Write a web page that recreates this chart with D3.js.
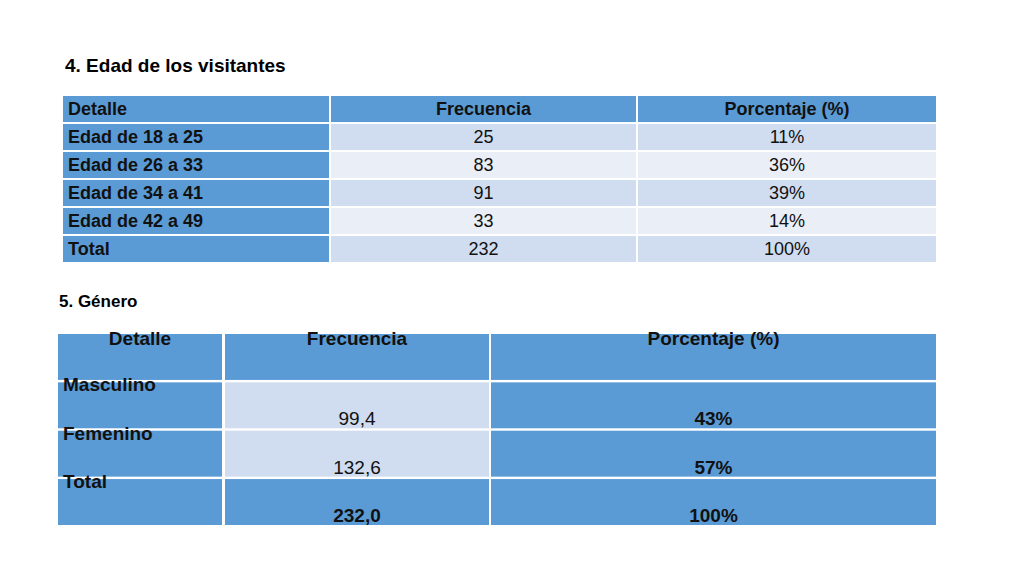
<!DOCTYPE html><html><head><meta charset="utf-8">
<script src="https://cdn.jsdelivr.net/npm/d3@7"></script>
<style>body{margin:0;background:#fff}svg{font-family:"Liberation Sans",Arial,sans-serif}</style></head><body>
<script>
const title1="4. Edad de los visitantes";
const headers1=["Detalle","Frecuencia","Porcentaje (%)"];
const cats1=["Edad de 18 a 25","Edad de 26 a 33","Edad de 34 a 41","Edad de 42 a 49","Total"];
const freq1=["25","83","91","33","232"];
const pct1=["11%","36%","39%","14%","100%"];
const title2="5. Género";
const headers2=["Detalle","Frecuencia","Porcentaje (%)"];
const cats2=["Masculino","Femenino","Total"];
const freq2=["99,4","132,6","232,0"];
const pct2=["43%","57%","100%"];

const blue="#5b9bd5", l1="#d0dcef", l2="#e9eef7";
const svg=d3.select("body").append("svg").attr("width",1024).attr("height",576);

// Table 1
svg.append("text").attr("x",65).attr("y",72).attr("font-size",19).attr("font-weight","bold").text(title1);
const cx1=d3.scaleOrdinal().domain([0,1,2]).range([63,331,638]);
const cw1=[266,305,298];
const ry1=d3.scaleBand().domain(d3.range(6)).range([96,262]).paddingInner(0.07);
const rows1=[headers1].concat(cats1.map((c,i)=>[c,freq1[i],pct1[i]]));
rows1.forEach((r,ri)=>{
  r.forEach((v,ci)=>{
    const fill = ri===0||ci===0 ? blue : (ri%2===1?l1:l2);
    svg.append("rect").attr("x",cx1(ci)).attr("y",ry1(ri)).attr("width",cw1[ci]).attr("height",ry1.bandwidth()).attr("fill",fill);
    const bold = ri===0||ci===0;
    svg.append("text").attr("x",ci===0?cx1(ci)+5:cx1(ci)+cw1[ci]/2).attr("y",ry1(ri)+ry1.bandwidth()/2+6)
      .attr("text-anchor",ci===0?"start":"middle").attr("font-size",18).attr("font-weight",bold?"bold":"normal").attr("fill","#111").text(v);
  });
});

// Table 2
svg.append("text").attr("x",59).attr("y",307).attr("font-size",17).attr("font-weight","bold").text(title2);
const cx2=d3.scaleOrdinal().domain([0,1,2]).range([58,225,491]);
const cw2=[164,264,445];
const ry2=d3.scaleBand().domain(d3.range(4)).range([334,525]).paddingInner(0.05);
const rows2=[headers2].concat(cats2.map((c,i)=>[c,freq2[i],pct2[i]]));
rows2.forEach((r,ri)=>{
  r.forEach((v,ci)=>{
    const fill = (ci===1 && ri>0 && ri<3) ? l1 : blue;
    svg.append("rect").attr("x",cx2(ci)).attr("y",ry2(ri)).attr("width",cw2[ci]).attr("height",ry2.bandwidth()).attr("fill",fill);
  });
});
rows2.forEach((r,ri)=>{
  r.forEach((v,ci)=>{
    const bold = !(ci===1 && ri>0 && ri<3);
    let x=cx2(ci)+cw2[ci]/2, y=ry2(ri)+ry2.bandwidth()/2+20, anchor="middle";
    if(ri===0){ y=ry2(0)+11; }
    if(ci===0 && ri>0){ x=cx2(0)+5; y=ry2(ri)+9; anchor="start"; }
    svg.append("text").attr("x",x).attr("y",y).attr("text-anchor",anchor).attr("font-size",19)
      .attr("font-weight",bold?"bold":"normal").attr("fill","#111").text(v);
  });
});
</script></body></html>
